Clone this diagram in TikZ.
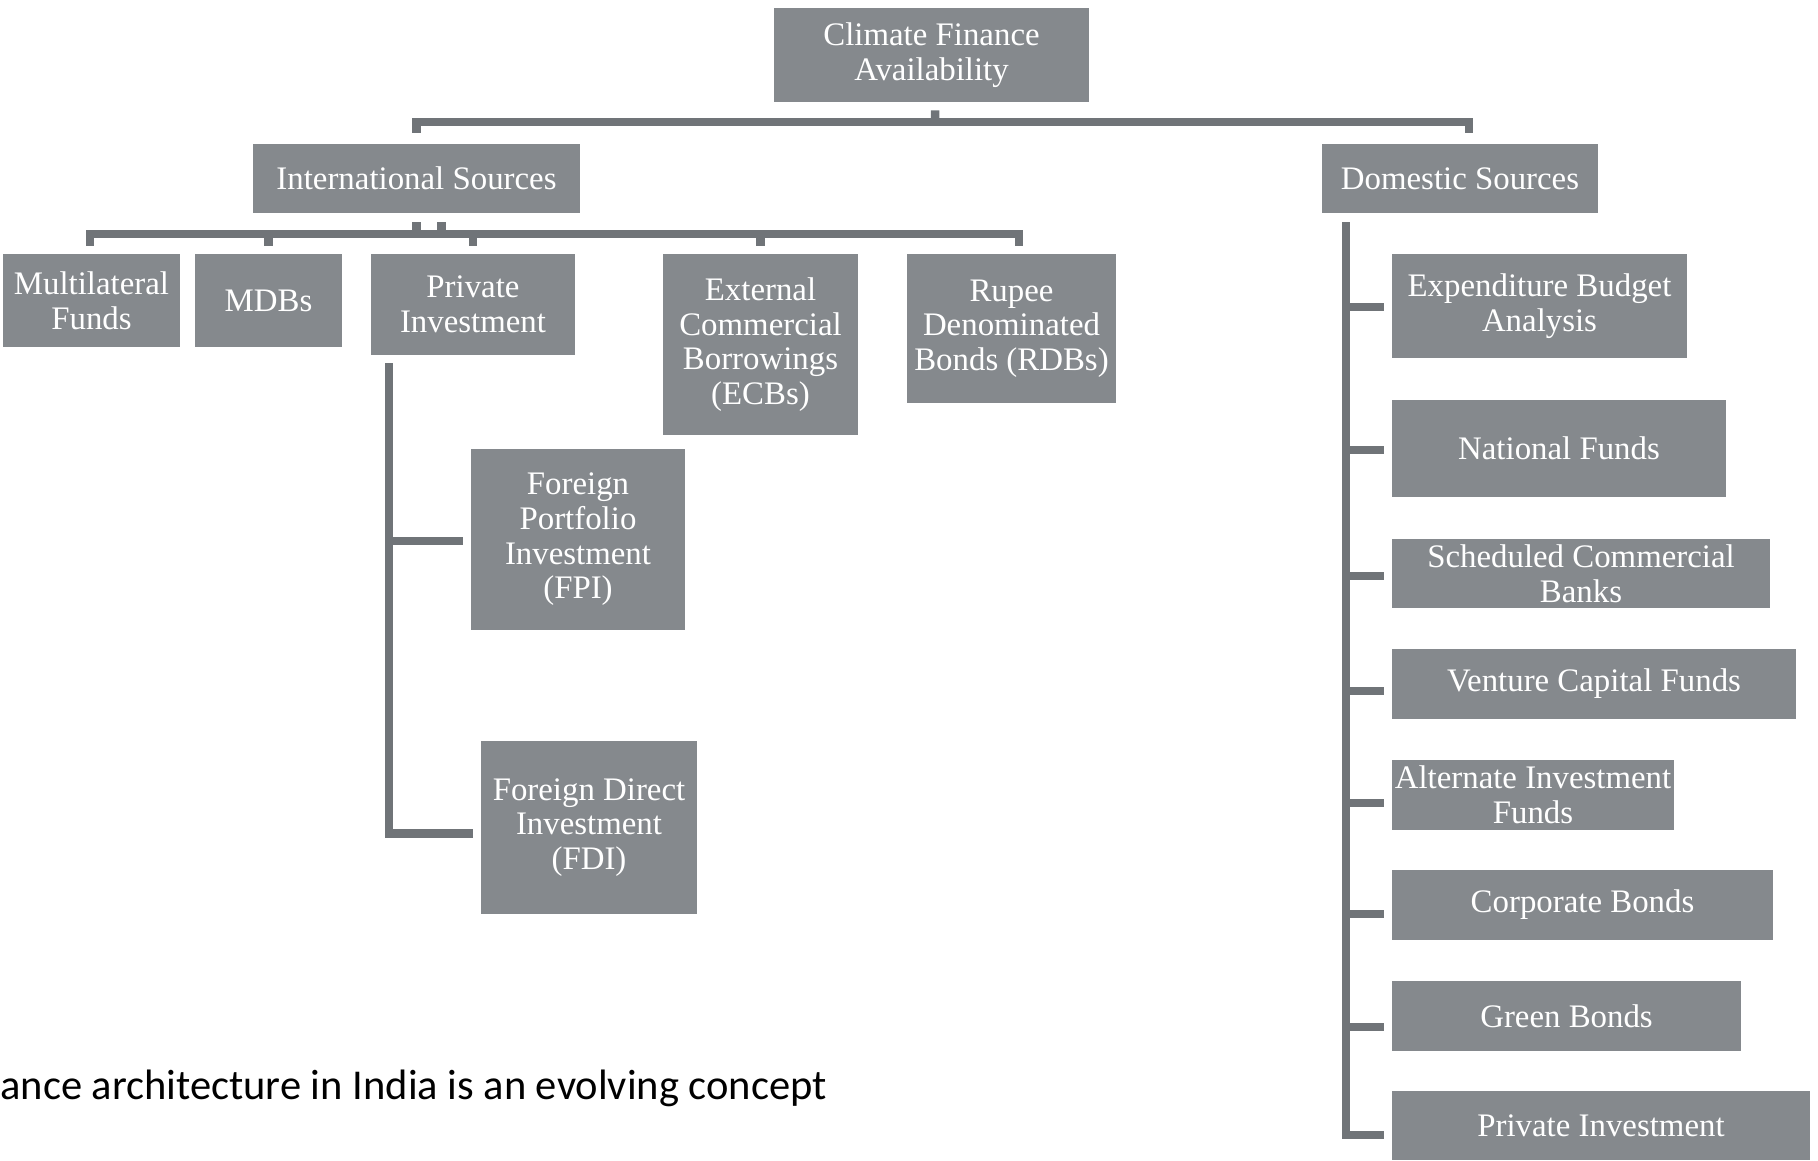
\documentclass[tikz,border=0pt]{standalone}
\usepackage{fontspec}
\setmainfont{Liberation Serif}
\newfontfamily\boxfont{Liberation Serif}
\newfontfamily\capfont{Carlito}
\usetikzlibrary{positioning,calc}
\definecolor{boxgray}{HTML}{85898D}
\definecolor{linegray}{HTML}{707478}
\newdimen\unitpx
\unitpx=0.02cm
\tikzset{
  srcbox/.style={
    rectangle,
    fill=boxgray,
    text=white,
    inner sep=0pt,
    align=center,
    font=\boxfont\fontsize{18.7}{19.7}\selectfont
  },
  conn/.style={draw=linegray,line width=8.5\unitpx},
  captext/.style={inner sep=0pt,text=black,font=\capfont\fontsize{24.2}{28}\selectfont}
}

\begin{document}
\begin{tikzpicture}[x=0.02cm,y=-0.02cm]
  \useasboundingbox (0,0) rectangle (1818,1160);

  % root and the two groups
  \node[srcbox, minimum width=315\unitpx, minimum height=94\unitpx] (top)  at (931.5,55)  {Climate Finance\\Availability};
  \node[srcbox, minimum width=327\unitpx, minimum height=69\unitpx] (intl) at (416.5,178.5) {International Sources};
  \node[srcbox, minimum width=276\unitpx, minimum height=69\unitpx] (dom)  at (1460,178.5) {Domestic Sources};

  % international sources
  \node[srcbox, minimum width=177\unitpx, minimum height=93\unitpx]  (multi) at (91.5,300.5)  {Multilateral\\Funds};
  \node[srcbox, minimum width=147\unitpx, minimum height=93\unitpx]  (mdbs)  at (268.5,300.5) {MDBs};
  \node[srcbox, minimum width=204\unitpx, minimum height=101\unitpx] (priv)  at (473,304.5)   {Private\\Investment};
  \node[srcbox, minimum width=195\unitpx, minimum height=181\unitpx] (ecb)   at (760.5,344.5) {External\\Commercial\\Borrowings\\(ECBs)};
  \node[srcbox, minimum width=209\unitpx, minimum height=149\unitpx] (rdb)   at (1011.5,328.5) {Rupee\\Denominated\\Bonds (RDBs)};
  \node[srcbox, minimum width=214\unitpx, minimum height=181\unitpx] (fpi)   at (578,539.5)   {Foreign\\Portfolio\\Investment\\(FPI)};
  \node[srcbox, minimum width=216\unitpx, minimum height=173\unitpx] (fdi)   at (589,827.5)   {Foreign Direct\\Investment\\(FDI)};

  % domestic sources
  \node[srcbox, minimum width=295\unitpx, minimum height=104\unitpx] (eba) at (1539.5,306)  {Expenditure Budget\\Analysis};
  \node[srcbox, minimum width=334\unitpx, minimum height=97\unitpx]  (nat) at (1559,448.5)  {National Funds};
  \node[srcbox, minimum width=378\unitpx, minimum height=69\unitpx]  (scb) at (1581,573.5)  {Scheduled Commercial\\Banks};
  \node[srcbox, minimum width=404\unitpx, minimum height=70\unitpx]  (vcf) at (1594,684)    {Venture Capital Funds};
  \node[srcbox, minimum width=282\unitpx, minimum height=70\unitpx]  (aif) at (1533,794.5)  {Alternate Investment\\Funds};
  \node[srcbox, minimum width=381\unitpx, minimum height=70\unitpx]  (cb)  at (1582.5,905)  {Corporate Bonds};
  \node[srcbox, minimum width=349\unitpx, minimum height=70\unitpx]  (gb)  at (1566.5,1016) {Green Bonds};
  \node[srcbox, minimum width=418\unitpx, minimum height=69\unitpx]  (pi2) at (1601,1125.5) {Private Investment};

  \node[captext, anchor=base west] (cap) at (0,1099) {ance architecture in India is an evolving concept};

  % top level connectors
  \coordinate (topbar) at (935,122);
  \draw[conn] ([xshift=3.5\unitpx,yshift=-8\unitpx]top.south) -- (topbar);
  \draw[conn] ([yshift=11\unitpx]intl.north) |- (topbar) -| ([xshift=9\unitpx,yshift=11\unitpx]dom.north);

  % international connectors
  \coordinate (ibar) at (417,234);
  \draw[conn] ([yshift=-9\unitpx]intl.south) -- (intl.south |- ibar);
  \draw[conn] ([xshift=25\unitpx,yshift=-9\unitpx]intl.south) -- ++(0,12);
  \draw[conn] ([xshift=-1.5\unitpx,yshift=8\unitpx]multi.north) |- (ibar) -| ([xshift=7.5\unitpx,yshift=8\unitpx]rdb.north);
  \foreach \n in {mdbs,priv,ecb}
    \draw[conn] ([yshift=8\unitpx]\n.north) -- (\n.north |- ibar);

  % private investment branches
  \coordinate (pspine) at (389,363);
  \draw[conn] (pspine) |- ([xshift=-8\unitpx,yshift=-6\unitpx]fdi.west);
  \draw[conn] ([xshift=-8\unitpx,yshift=-1.5\unitpx]fpi.west) coordinate (br) -- (pspine |- br);

  % domestic branches
  \coordinate (dspine) at (1346,222);
  \draw[conn] (dspine) |- ([xshift=-8\unitpx,yshift=-9.5\unitpx]pi2.west);
  \foreach \n/\dy in {eba/-1,nat/-1.5,scb/-2.5,vcf/-7,aif/-8.5,cb/-9,gb/-11}
    \draw[conn] ([xshift=-8\unitpx,yshift=\dy\unitpx]\n.west) coordinate (br) -- (dspine |- br);
\end{tikzpicture}
\end{document}
